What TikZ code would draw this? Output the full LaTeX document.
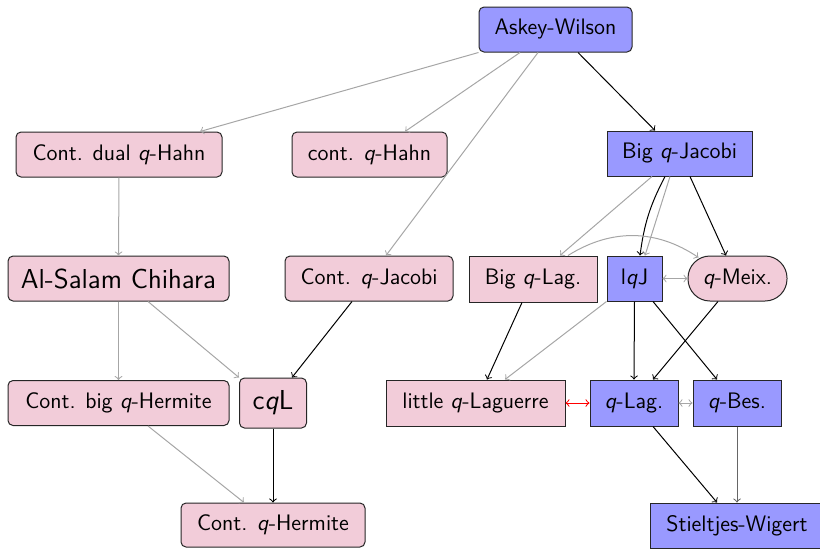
\documentclass[tikz,border=0pt]{standalone}
\usetikzlibrary{calc}
\begin{document}
\begin{tikzpicture}[x=0.5pt,y=-0.5pt, line width=0.5pt,
  base/.style={draw=black!85, inner sep=0pt, font=\sffamily\fontsize{11.2}{13}\selectfont},
  bigtext/.style={font=\sffamily\fontsize{13.7}{16}\selectfont},
  bluebox/.style={base, fill=blue!40},
  pinkbox/.style={base, fill=purple!20},
  rnd/.style={rounded corners=2.5pt},
  g/.style={draw=black!35, ->},
  k/.style={draw=black, ->},
  sz/.style 2 args={minimum width=#1*0.5pt, minimum height=#2*0.5pt}
]
\useasboundingbox (0,0) rectangle (820,548);
\node[bluebox,rnd,sz={153}{45}] (aw) at (555.5,29.5) {Askey-Wilson};
\node[pinkbox,rnd,sz={206}{45}] (cdh) at (119,154.5) {Cont. dual \textit{q}-Hahn};
\node[pinkbox,rnd,sz={155}{45}] (ch) at (369.5,154.5) {cont. \textit{q}-Hahn};
\node[bluebox,sz={145}{45}] (bqj) at (679.5,153.5) {Big \textit{q}-Jacobi};
\node[pinkbox,rnd,sz={221}{45},bigtext] (asc) at (118.5,278.5) {Al-Salam Chihara};
\node[pinkbox,rnd,sz={168}{45}] (cqj) at (369,278.5) {Cont. \textit{q}-Jacobi};
\node[pinkbox,sz={128}{46}] (bql) at (533,279) {Big \textit{q}-Lag.};
\node[bluebox,sz={55}{45}] (lqj) at (634.5,278.5) {l\textit{q}J};
\node[pinkbox,rounded corners=11pt,sz={99}{45}] (qm) at (737.5,278.5) {\textit{q}-Meix.};
\node[pinkbox,rnd,sz={221}{45}] (cbh) at (118.5,403) {Cont. big \textit{q}-Hermite};
\node[pinkbox,rnd,sz={67}{50},bigtext] (cql) at (273,403) {c\textit{q}L};
\node[pinkbox,sz={179}{46}] (lql) at (475.5,403) {little \textit{q}-Laguerre};
\node[bluebox,sz={88}{46}] (qlag) at (634,403) {\textit{q}-Lag.};
\node[bluebox,sz={88}{46}] (qbes) at (737,403) {\textit{q}-Bes.};
\node[bluebox,sz={174}{45}] (sw) at (737,525.5) {Stieltjes-Wigert};
\node[pinkbox,rnd,sz={184}{44}] (cqh) at (273,525) {Cont. \textit{q}-Hermite};

\draw[g] (aw.south west) -- ([xshift=40.5pt]cdh.north);
\draw[g] ([xshift=-17.75pt]aw.south) -- ([xshift=17.75pt]ch.north);
\draw[g] ([xshift=-8.75pt]aw.south) -- ([xshift=8.5pt]cqj.north);
\draw[k] ([xshift=11.25pt]aw.south) -- ([xshift=-12.25pt]bqj.north);
\draw[g] (cdh.south) -- (asc.north);
\draw[g] (asc.south) -- (cbh.north);
\draw[g] ([xshift=14.75pt]asc.south) -- (cql.north west);
\draw[k] ([xshift=-8.5pt]cqj.south) -- ([xshift=9.5pt]cql.north);
\draw[g] ([xshift=14.75pt]cbh.south) -- ([xshift=-14.5pt]cqh.north);
\draw[k] (cql.south) -- (cqh.north);
\draw[g] ([xshift=-13.75pt]bqj.south) -- ([xshift=13.5pt]bql.north);
\draw[k] ([xshift=-7.25pt]bqj.south) to[bend right=10] ([xshift=2.75pt]lqj.north);
\draw[g] ([xshift=-4.75pt]bqj.south) -- ([xshift=5.25pt]lqj.north);
\draw[k] ([xshift=5.25pt]bqj.south) -- ([xshift=-5.75pt]qm.north);
\draw[g] ([xshift=17.5pt]bql.north) to[bend left=33] ([xshift=5.5pt,yshift=-1pt]qm.north west);
\draw[g,<->] (lqj.east) -- (qm.west);
\draw[k] ([xshift=-5.5pt]bql.south) -- ([xshift=5.75pt]lql.north);
\draw[g] (lqj.south west) -- ([xshift=14.75pt]lql.north);
\draw[k] (lqj.south) -- (qlag.north);
\draw[k] ([xshift=9.25pt]lqj.south) -- ([xshift=-10pt]qbes.north);
\draw[k] ([xshift=-9.75pt]qm.south) -- ([xshift=9.5pt]qlag.north);
\draw[red,<->] (lql.east) -- (qlag.west);
\draw[g,<->] (qlag.east) -- (qbes.west);
\draw[k] ([xshift=9.5pt]qlag.south) -- ([xshift=-10pt]sw.north);
\draw[draw=black!60,->] (qbes.south) -- (sw.north);
\end{tikzpicture}
\end{document}
